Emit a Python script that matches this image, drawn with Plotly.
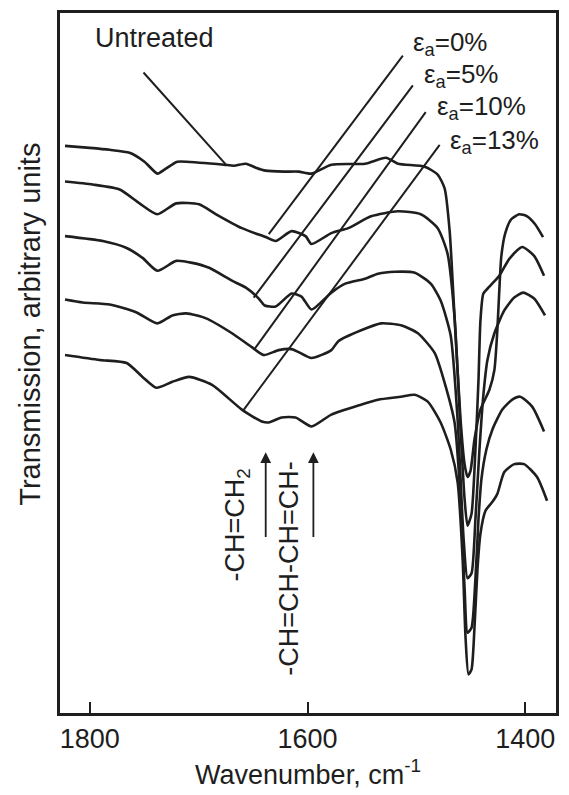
import plotly.graph_objects as go

# ---- data (wavenumber in cm-1, transmission in arbitrary units) ----
wn_untreated = [1822.8, 1800.0, 1781.7, 1763.5, 1749.8, 1737.9, 1731.5, 1719.6, 1699.6, 1676.7,
                1667.6, 1656.6, 1647.5, 1638.4, 1621.9, 1608.2, 1596.4, 1578.1, 1547.1, 1527.9,
                1516.9, 1492.3, 1480.4, 1474.0, 1469.4, 1464.9, 1459.4, 1455.7, 1453.0, 1450.3,
                1446.6, 1441.1, 1432.9, 1428.3, 1425.6, 1423.8, 1421.9, 1418.3, 1412.8, 1405.5,
                1398.2, 1390.9, 1383.6]
tr_untreated = [57.2, 57.0, 56.8, 56.5, 55.6, 54.4, 54.8, 55.6, 55.5, 55.3,
                55.2, 55.4, 55.0, 54.7, 54.6, 54.6, 54.4, 55.3, 55.4, 56.0,
                55.4, 55.1, 54.3, 52.9, 48.6, 39.9, 29.6, 25.1, 23.8, 24.4,
                27.6, 30.6, 32.6, 34.6, 38.6, 42.6, 46.1, 48.4, 49.8, 50.3,
                50.1, 49.3, 48.0]

wn_e0 = [1822.8, 1797.3, 1772.6, 1754.3, 1737.9, 1720.6, 1699.6, 1684.0, 1660.3, 1638.4,
         1629.2, 1614.6, 1601.8, 1596.4, 1578.1, 1562.6, 1541.6, 1516.9, 1495.9, 1480.4,
         1471.3, 1464.9, 1459.4, 1455.7, 1453.0, 1449.3, 1445.7, 1442.9, 1441.1, 1438.4,
         1432.9, 1423.8, 1414.6, 1402.8, 1391.8, 1382.7]
tr_e0 = [53.6, 53.3, 52.8, 51.4, 50.3, 51.4, 51.3, 50.3, 48.9, 48.0,
         47.6, 48.6, 48.1, 47.3, 48.4, 48.9, 50.1, 50.6, 50.3, 48.9,
         46.3, 39.9, 28.6, 21.6, 18.9, 20.1, 26.6, 33.6, 39.6, 42.3,
         43.0, 44.1, 45.8, 47.0, 46.1, 44.1]

wn_e5 = [1822.8, 1788.1, 1766.2, 1751.6, 1737.9, 1720.6, 1705.9, 1690.4, 1669.4, 1656.6,
         1644.8, 1639.3, 1629.2, 1614.6, 1605.5, 1596.4, 1578.1, 1565.3, 1547.1, 1535.2,
         1519.7, 1501.4, 1486.8, 1477.7, 1468.5, 1462.1, 1456.6, 1453.0, 1449.3, 1445.7,
         1442.0, 1438.4, 1434.7, 1428.3, 1419.2, 1410.1, 1401.9, 1391.8, 1381.8]
tr_e5 = [48.1, 47.6, 46.9, 45.9, 44.6, 45.6, 45.4, 44.9, 43.6, 42.9,
         41.8, 41.1, 41.0, 42.3, 42.0, 40.7, 42.4, 43.3, 43.8, 44.3,
         44.5, 44.4, 43.3, 41.6, 38.1, 29.6, 17.6, 13.6, 14.1, 19.6,
         26.6, 32.1, 35.6, 38.3, 40.6, 41.9, 42.4, 41.8, 40.1]

wn_e10 = [1822.8, 1806.4, 1781.7, 1757.1, 1737.9, 1724.2, 1711.4, 1693.2, 1669.4, 1651.2,
          1640.2, 1626.5, 1614.6, 1608.2, 1596.4, 1578.1, 1571.7, 1550.7, 1532.4, 1514.2,
          1498.6, 1483.1, 1474.0, 1464.9, 1459.4, 1455.7, 1453.0, 1449.3, 1445.7, 1442.9,
          1440.2, 1435.6, 1430.1, 1421.0, 1411.9, 1404.6, 1393.6, 1382.7]
tr_e10 = [41.7, 41.4, 41.2, 40.4, 39.3, 40.1, 40.3, 39.8, 38.3, 36.9,
          36.1, 36.6, 36.7, 36.4, 35.8, 36.6, 37.5, 38.6, 39.3, 39.1,
          38.3, 36.3, 33.3, 29.3, 21.6, 12.6, 8.1, 8.6, 13.6, 19.6,
          23.6, 26.6, 28.6, 30.6, 31.6, 31.9, 30.9, 28.4]

wn_e13 = [1822.8, 1790.9, 1766.2, 1751.6, 1738.8, 1724.2, 1708.7, 1687.7, 1660.3, 1642.0,
          1635.6, 1623.8, 1611.0, 1596.4, 1578.1, 1550.7, 1535.2, 1514.2, 1501.4, 1489.5,
          1477.7, 1468.5, 1462.1, 1457.5, 1454.8, 1452.1, 1449.3, 1446.6, 1443.8, 1441.1,
          1436.5, 1430.1, 1425.6, 1419.2, 1410.1, 1401.0, 1389.1, 1379.9]
tr_e13 = [36.1, 35.6, 35.3, 33.9, 32.8, 33.4, 33.9, 33.1, 30.6, 29.4,
          29.3, 29.8, 29.8, 28.9, 30.1, 31.1, 31.6, 31.9, 32.1, 31.4,
          29.3, 26.6, 23.3, 15.6, 7.6, 3.9, 4.4, 8.6, 14.6, 18.1,
          20.4, 21.3, 22.1, 24.3, 25.1, 25.1, 23.8, 21.4]

series_names = ["Untreated", "εa=0%", "εa=5%", "εa=10%", "εa=13%"]
series_x = [wn_untreated, wn_e0, wn_e5, wn_e10, wn_e13]
series_y = [tr_untreated, tr_e0, tr_e5, tr_e10, tr_e13]

# label leader lines: (x0, y0) on curve -> (x1, y1) at label
leader_x0 = [1674.9, 1635.6, 1649.4, 1649.4, 1658.5]
leader_y0 = [55.3, 48.3, 41.9, 36.6, 30.6]
leader_x1 = [1750.7, 1512.4, 1503.2, 1491.4, 1478.6]
leader_y1 = [64.6, 66.3, 63.3, 60.6, 57.3]

strain_labels = ["ε<sub>a</sub>=0%", "ε<sub>a</sub>=5%", "ε<sub>a</sub>=10%", "ε<sub>a</sub>=13%"]
strain_label_x = [1505.0, 1494.9, 1483.1, 1471.3]
strain_label_y = [67.5, 64.3, 61.1, 57.6]

band_labels = ["-CH=CH<sub>2</sub>", "-CH=CH-CH=CH-"]
band_label_x = [1664.9, 1616.5]
band_label_y = [19.0, 14.6]
band_arrow_x = [1638.4, 1594.6]
band_arrow_y0 = 17.6
band_arrow_y1 = 26.3

tick_vals = [1800, 1600, 1400]

INK = "#1e1e1e"
FONT = "Liberation Sans, Arial, sans-serif"

fig = go.Figure()
for name, xs, ys in zip(series_names, series_x, series_y):
    fig.add_trace(go.Scatter(x=xs, y=ys, mode="lines", name=name,
                             line=dict(color=INK, width=2.6, shape="spline", smoothing=0.6),
                             showlegend=False, hoverinfo="skip"))

for x0, y0, x1, y1 in zip(leader_x0, leader_y0, leader_x1, leader_y1):
    fig.add_shape(type="line", x0=x0, y0=y0, x1=x1, y1=y1, xref="x", yref="y",
                  line=dict(color=INK, width=2))

annotations = []
annotations.append(dict(x=1740.7, y=68.1, xref="x", yref="y", text="Untreated", showarrow=False,
                        font=dict(size=27, color=INK, family=FONT), xanchor="center", yanchor="middle"))
for t, x, y in zip(strain_labels, strain_label_x, strain_label_y):
    annotations.append(dict(x=x, y=y, xref="x", yref="y", text=t, showarrow=False,
                            font=dict(size=26, color=INK, family=FONT), xanchor="left", yanchor="middle"))
for t, x, y in zip(band_labels, band_label_x, band_label_y):
    annotations.append(dict(x=x, y=y, xref="x", yref="y", text=t, showarrow=False, textangle=-90,
                            font=dict(size=27, color=INK, family=FONT), xanchor="center", yanchor="middle"))
for x in band_arrow_x:
    annotations.append(dict(x=x, y=band_arrow_y1, ax=x, ay=band_arrow_y0, xref="x", yref="y",
                            axref="x", ayref="y", text="", showarrow=True, arrowhead=2,
                            arrowsize=1.2, arrowwidth=1.8, arrowcolor=INK))
# y-axis title (placed slightly above the plot centre, as in the original)
annotations.append(dict(x=-0.06, y=0.555, xref="paper", yref="paper",
                        text="Transmission, arbitrary units", showarrow=False, textangle=-90,
                        font=dict(size=29, color=INK, family=FONT), xanchor="center", yanchor="middle"))

fig.update_layout(
    width=569, height=795,
    margin=dict(l=60, r=10, t=10, b=79),
    paper_bgcolor="white", plot_bgcolor="white",
    font=dict(family=FONT, size=27, color=INK),
    annotations=annotations,
    xaxis=dict(range=[1827.4, 1371.7], tickvals=tick_vals, ticks="inside", ticklen=11,
               tickwidth=2, tickcolor=INK, showline=True, linecolor=INK, linewidth=2.5,
               mirror=True, showgrid=False, zeroline=False,
               tickfont=dict(size=27, family=FONT, color=INK),
               title=dict(text="Wavenumber, cm<sup>-1</sup>", standoff=12,
                          font=dict(size=27, family=FONT, color=INK))),
    yaxis=dict(range=[0, 70.6], showticklabels=False, ticks="", showline=True, linecolor=INK,
               linewidth=2.5, mirror=True, showgrid=False, zeroline=False),
)

fig.write_html("out.html")
